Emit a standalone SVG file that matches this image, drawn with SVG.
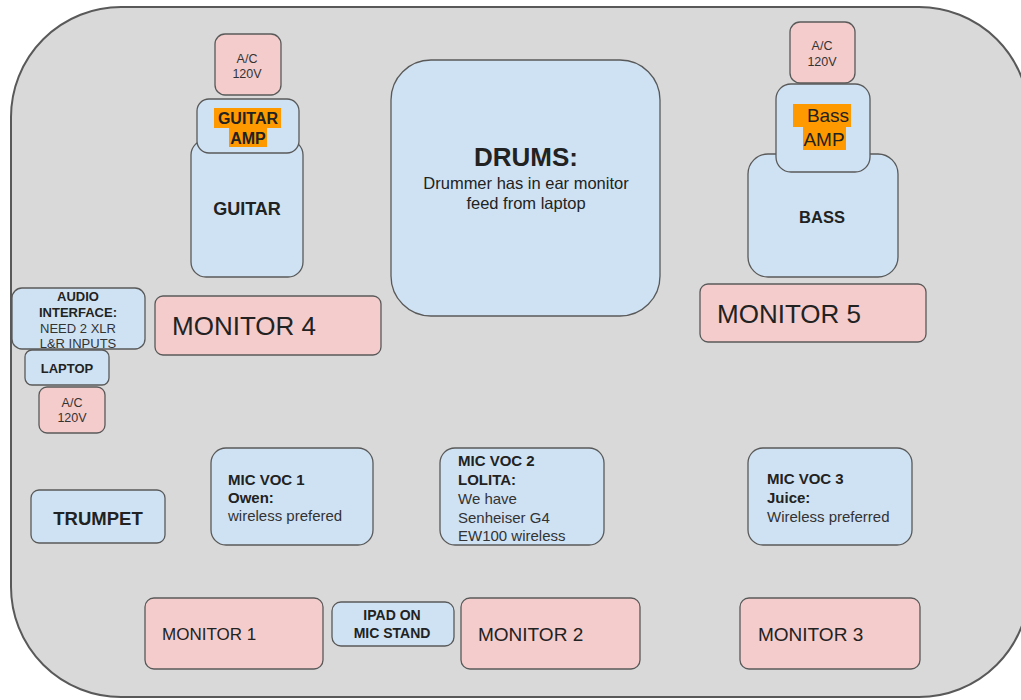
<svg xmlns="http://www.w3.org/2000/svg" width="1021" height="700" viewBox="0 0 1021 700">
<style>
.bg{fill:#d9d9d9;stroke:#595959;stroke-width:2}
.b{fill:#cfe2f3;stroke:#595959;stroke-width:1.3}
.p{fill:#f4cccc;stroke:#595959;stroke-width:1.3}
text{font-family:"Liberation Sans",Arial,sans-serif;fill:#222}
.c{text-anchor:middle}
.bold{font-weight:bold}
.hl{fill:#ff9900}
.ac{font-size:12.5px}
.s13{font-size:13px}
.s15{font-size:15px}
.r{fill:#333}
</style>
<rect class="bg" x="11" y="7" width="1018" height="690" rx="110" ry="110"/>
<g id="connectors"/>
<g id="ac-guitar"><rect class="p" x="215" y="34" width="66" height="61" rx="10"/>
<text class="c ac r" x="247" y="63">A/C</text><text class="c ac r" x="247" y="78">120V</text></g>
<g id="guitar"><rect class="b" x="191" y="140" width="112" height="137" rx="15"/>
<text class="c bold" font-size="18" x="247" y="215">GUITAR</text></g>
<g id="guitar-amp"><rect class="b" x="197" y="99" width="102" height="54" rx="12"/>
<rect class="hl" x="214" y="108" width="67" height="20"/><rect class="hl" x="229" y="128" width="38" height="19"/>
<text class="c bold" font-size="16" x="248" y="124">GUITAR</text><text class="c bold" font-size="16" x="248" y="144">AMP</text></g>
<g id="drums"><rect class="b" x="391" y="60" width="269" height="256" rx="40"/>
<text class="c bold" font-size="26" x="526" y="166">DRUMS:</text>
<text class="c" font-size="16.5" x="526" y="189">Drummer has in ear monitor</text>
<text class="c" font-size="16.5" x="526" y="209">feed from laptop</text></g>
<g id="ac-bass"><rect class="p" x="790" y="22" width="65" height="61" rx="10"/>
<text class="c ac r" x="822" y="50">A/C</text><text class="c ac r" x="822" y="66">120V</text></g>
<g id="bass"><rect class="b" x="748" y="154" width="150" height="123" rx="20"/>
<text class="c bold" font-size="16.5" x="822" y="223">BASS</text></g>
<g id="bass-amp"><rect class="b" x="776" y="84" width="94" height="88" rx="15"/>
<rect class="hl" x="793" y="104" width="58" height="23"/><rect class="hl" x="803" y="127" width="43" height="23"/>
<text class="c" font-size="19" x="828" y="122">Bass</text><text class="c" font-size="19" x="824" y="146">AMP</text></g>
<g id="monitor4"><rect class="p" x="155" y="296" width="226" height="59" rx="8"/>
<text font-size="26" x="172" y="335">MONITOR 4</text></g>
<g id="monitor5"><rect class="p" x="700" y="284" width="226" height="58" rx="8"/>
<text font-size="26" x="717" y="323">MONITOR 5</text></g>
<g id="audio-interface"><rect class="b" x="12" y="288" width="133" height="61" rx="10"/>
<text class="c s13 bold" x="78" y="301">AUDIO</text><text class="c s13 bold" x="78" y="317">INTERFACE:</text>
<text class="c s13 r" x="78" y="333">NEED 2 XLR</text><text class="c s13 r" x="78" y="348">L&amp;R INPUTS</text></g>
<g id="laptop"><rect class="b" x="25" y="350" width="84" height="35" rx="7"/>
<text class="c s13 bold" x="67" y="373">LAPTOP</text></g>
<g id="ac-laptop"><rect class="p" x="39" y="387" width="66" height="46" rx="8"/>
<text class="c ac r" x="72" y="407">A/C</text><text class="c ac r" x="72" y="422">120V</text></g>
<g id="trumpet"><rect class="b" x="31" y="490" width="134" height="53" rx="8"/>
<text class="c bold" font-size="18.5" x="98" y="525">TRUMPET</text></g>
<g id="mic1"><rect class="b" x="211" y="448" width="162" height="97" rx="15"/>
<text class="s15 bold" x="228" y="485">MIC VOC 1</text><text class="s15 bold" x="228" y="503">Owen:</text>
<text class="s15 r" x="228" y="521">wireless prefered</text></g>
<g id="mic2"><rect class="b" x="440" y="448" width="164" height="97" rx="15"/>
<text class="s15 bold" x="458" y="466">MIC VOC 2</text><text class="s15 bold" x="458" y="485">LOLITA:</text>
<text class="s15 r" x="458" y="504">We have</text><text class="s15 r" x="458" y="523">Senheiser G4</text>
<text class="s15 r" x="458" y="541">EW100 wireless</text></g>
<g id="mic3"><rect class="b" x="748" y="448" width="164" height="97" rx="15"/>
<text class="s15 bold" x="767" y="484">MIC VOC 3</text><text class="s15 bold" x="767" y="503">Juice:</text>
<text class="s15 r" x="767" y="522">Wireless preferred</text></g>
<g id="monitor1"><rect class="p" x="145" y="598" width="178" height="71" rx="9"/>
<text font-size="17" x="162" y="640">MONITOR 1</text></g>
<g id="ipad"><rect class="b" x="332" y="602" width="122" height="44" rx="9"/>
<text class="c bold" font-size="14" x="392" y="620">IPAD ON</text><text class="c bold" font-size="14" x="392" y="638">MIC STAND</text></g>
<g id="monitor2"><rect class="p" x="461" y="598" width="179" height="71" rx="9"/>
<text font-size="19" x="478" y="641">MONITOR 2</text></g>
<g id="monitor3"><rect class="p" x="740" y="598" width="180" height="71" rx="9"/>
<text font-size="19" x="758" y="641">MONITOR 3</text></g>
</svg>
